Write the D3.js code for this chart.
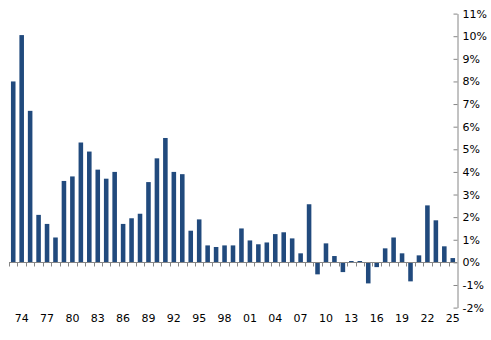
<!DOCTYPE html>
<html><head><meta charset="utf-8">
<script src="https://cdn.jsdelivr.net/npm/d3@7"></script>
<style>body{margin:0;background:#fff}svg{display:block}</style>
</head><body>
<svg id="c" width="491" height="340"></svg>
<script>
const years = d3.range(1973, 2026);
const values = [8.0,10.05,6.7,2.1,1.7,1.1,3.6,3.8,5.3,4.9,4.1,3.7,4.0,1.7,1.95,2.15,3.55,4.6,5.5,4.0,3.9,1.4,1.9,0.75,0.68,0.75,0.75,1.5,0.97,0.8,0.88,1.25,1.33,1.06,0.4,2.57,-0.53,0.84,0.28,-0.43,0.06,0.06,-0.93,-0.21,0.62,1.1,0.4,-0.84,0.31,2.52,1.86,0.71,0.19];
const yTicks = d3.range(-2, 12);
const labelYears = years.filter((yr,i)=> (i-1)%3===0);

(function(){
const svg = d3.select("#c");
const L = 9, R = 457, T = 13.6, B = 307.6;
const x = d3.scaleBand().domain(years).range([L, R]).paddingInner(0.46).paddingOuter(0.23);
const y = d3.scaleLinear().domain([-2, 11]).range([B, T]);
const axisCol = "#868686";
const font = "Tahoma, 'DejaVu Sans', Verdana, sans-serif";

svg.append("g").selectAll("rect").data(values).join("rect")
  .attr("x", (d,i)=>x(years[i]))
  .attr("width", x.bandwidth())
  .attr("y", d=>y(Math.max(0,d)))
  .attr("height", d=>Math.abs(y(d)-y(0)))
  .attr("fill", "#214a7d");

const step = (R-L)/years.length;
const zg = svg.append("g").attr("transform", `translate(0,${Math.round(y(0))+0.5})`);
zg.append("line").attr("x1", L).attr("x2", R).attr("stroke", axisCol);
zg.selectAll("line.t").data(d3.range(0, years.length)).join("line").attr("class","t")
  .attr("x1", i=>Math.round(L+i*step)+0.5).attr("x2", i=>Math.round(L+i*step)+0.5)
  .attr("y1", 0).attr("y2", 4).attr("stroke", axisCol);

svg.append("g").selectAll("text").data(labelYears).join("text")
  .attr("x", d=>x(d)+x.bandwidth()/2)
  .attr("y", 318).attr("dy","0.35em")
  .attr("text-anchor","middle")
  .attr("font-family", font).attr("font-size", 11).attr("fill","#000")
  .text(d=>String(d).slice(2));

const ax = d3.axisRight(y).tickValues(yTicks).tickSize(0).tickPadding(5).tickFormat(d=>d+"%");
const ag = svg.append("g").attr("transform", `translate(${R+0.5},0)`).call(ax);
ag.select(".domain").attr("stroke", axisCol);
ag.selectAll(".tick").append("line").attr("x1",-4).attr("x2",0).attr("stroke",axisCol);
ag.selectAll("text").attr("font-family", font).attr("font-size", 11).attr("fill","#000");
})();
</script>
</body></html>
